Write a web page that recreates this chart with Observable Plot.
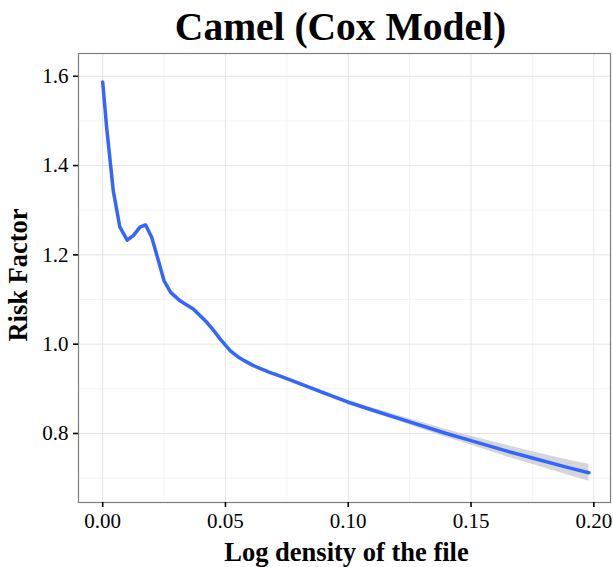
<!DOCTYPE html>
<html><head><meta charset="utf-8">
<script src="https://cdn.jsdelivr.net/npm/d3@7"></script>
<script src="https://cdn.jsdelivr.net/npm/@observablehq/plot@0.6"></script>
<style>body{margin:0;background:#fff;}</style>
</head><body><div id="chart"></div>
<script>
const chartTitle = "Camel (Cox Model)";
const xTitle = "Log density of the file";
const yTitle = "Risk Factor";
const xTicks = [0, 0.05, 0.10, 0.15, 0.20];
const yTicks = [0.8, 1.0, 1.2, 1.4, 1.6];
const xMinor = [0.025, 0.075, 0.125, 0.175];
const yMinor = [0.7, 0.9, 1.1, 1.3, 1.5];

const logDensity = [0, 0.0016, 0.0043, 0.0070, 0.0100, 0.0125, 0.0152, 0.0175, 0.0200, 0.0227, 0.0250, 0.0277, 0.0315, 0.0369, 0.0424, 0.045, 0.0478, 0.052, 0.055, 0.058, 0.061, 0.064, 0.068, 0.072, 0.080, 0.090, 0.100, 0.110, 0.125, 0.140, 0.150, 0.165, 0.175, 0.190, 0.198];
const riskFactor = [1.587, 1.486, 1.344, 1.262, 1.233, 1.243, 1.262, 1.267, 1.239, 1.187, 1.142, 1.116, 1.097, 1.079, 1.049, 1.032, 1.012, 0.985, 0.972, 0.962, 0.953, 0.946, 0.937, 0.929, 0.912, 0.891, 0.870, 0.852, 0.826, 0.800, 0.784, 0.760, 0.745, 0.723, 0.712];
const bandLower = [1.584, 1.483, 1.341, 1.259, 1.230, 1.240, 1.259, 1.264, 1.236, 1.184, 1.139, 1.113, 1.094, 1.076, 1.046, 1.029, 1.009, 0.982, 0.969, 0.959, 0.950, 0.943, 0.934, 0.926, 0.909, 0.887, 0.866, 0.847, 0.819, 0.791, 0.774, 0.747, 0.731, 0.706, 0.693];
const bandUpper = [1.590, 1.489, 1.347, 1.265, 1.236, 1.246, 1.265, 1.270, 1.242, 1.190, 1.145, 1.119, 1.100, 1.082, 1.052, 1.035, 1.015, 0.988, 0.975, 0.965, 0.956, 0.949, 0.940, 0.932, 0.915, 0.895, 0.874, 0.857, 0.833, 0.809, 0.794, 0.773, 0.759, 0.740, 0.731];

const data = logDensity.map((x, i) => ({x, y: riskFactor[i], lo: bandLower[i], hi: bandUpper[i]}));
const font = "'Liberation Serif', 'Times New Roman', serif";

const chart = Plot.plot({
  width: 613,
  height: 567,
  marginLeft: 78,
  marginRight: 3,
  marginTop: 53,
  marginBottom: 65,
  style: {fontFamily: font, fontSize: "21px", color: "black", background: "white", overflow: "visible"},
  x: {domain: [-0.00985, 0.2068]},
  y: {domain: [0.6454, 1.651]},
  marks: [
    Plot.gridX(xMinor, {stroke: "#f3f3f3", strokeOpacity: 1, strokeWidth: 1}),
    Plot.gridY(yMinor, {stroke: "#f3f3f3", strokeOpacity: 1, strokeWidth: 1}),
    Plot.gridX(xTicks, {stroke: "#e5e5e5", strokeOpacity: 1, strokeWidth: 1}),
    Plot.gridY(yTicks, {stroke: "#e5e5e5", strokeOpacity: 1, strokeWidth: 1}),
    Plot.areaY(data, {x: "x", y1: "lo", y2: "hi", fill: "#999999", fillOpacity: 0.4}),
    Plot.line(data, {x: "x", y: "y", stroke: "#3366FF", strokeWidth: 3.5, strokeLinejoin: "round"}),
    Plot.frame({stroke: "#7f7f7f", strokeWidth: 1.2}),
    Plot.axisX(xTicks, {tickSize: 5, tickPadding: 6, fontSize: 21, label: null, strokeWidth: 1.6, tickFormat: d => d.toFixed(2)}),
    Plot.axisY(yTicks, {tickSize: 5, tickPadding: 5, fontSize: 21, label: null, strokeWidth: 1.6, tickFormat: d => d.toFixed(1)}),
    Plot.text([chartTitle], {text: d => d, frameAnchor: "top", dx: -4, dy: -14, lineAnchor: "bottom", fontSize: 39.5, fontWeight: "bold", fill: "black"}),
    Plot.text([xTitle], {text: d => d, frameAnchor: "bottom", dx: 2, dy: 58, lineAnchor: "bottom", fontSize: 26.5, fontWeight: "bold", fill: "black"}),
    Plot.text([yTitle], {text: d => d, frameAnchor: "left", textAnchor: "middle", rotate: -90, dx: -52, dy: -3, lineAnchor: "bottom", fontSize: 26.5, fontWeight: "bold", fill: "black"})
  ]
});
document.getElementById("chart").appendChild(chart);
</script>
</body></html>
